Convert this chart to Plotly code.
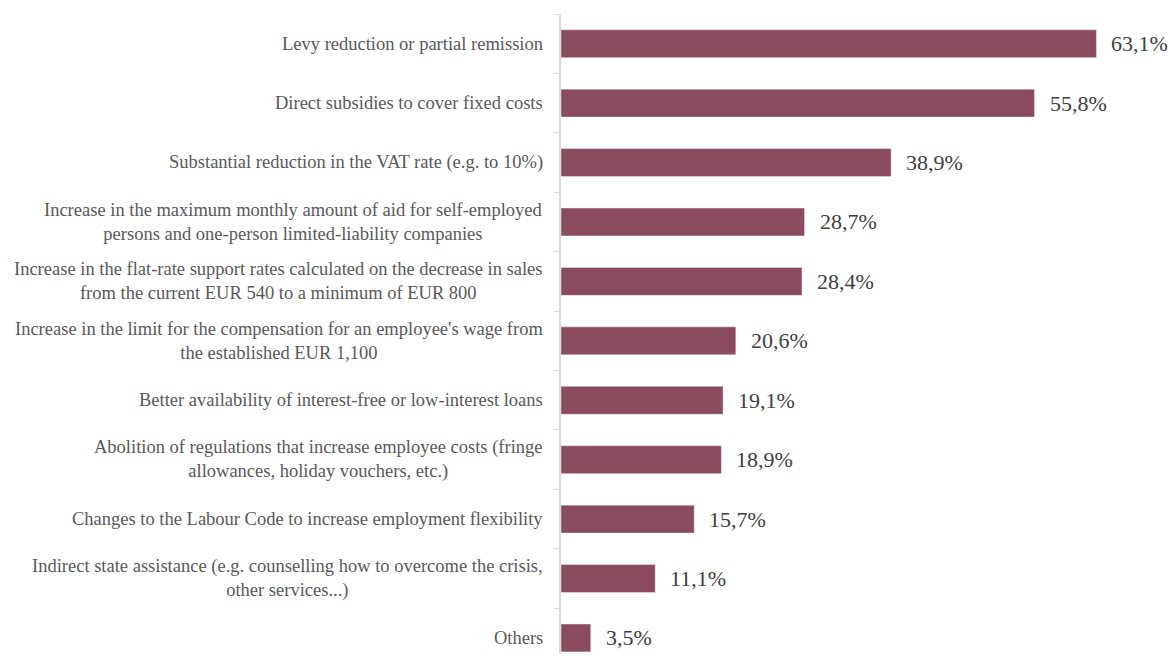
import plotly.graph_objects as go

# categories from top to bottom
categories = [
    "Levy reduction or partial remission",
    "Direct subsidies to cover fixed costs",
    "Substantial reduction in the VAT rate (e.g. to 10%)",
    "Increase in the maximum monthly amount of aid for self-employed<br>persons and one-person limited-liability companies",
    "Increase in the flat-rate support rates calculated on the decrease in sales<br>from the current EUR 540 to a minimum of EUR 800",
    "Increase in the limit for the compensation for an employee's wage from<br>the established EUR 1,100",
    "Better availability of interest-free or low-interest loans",
    "Abolition of regulations that increase employee costs (fringe<br>allowances, holiday vouchers, etc.)",
    "Changes to the Labour Code to increase employment flexibility",
    "Indirect state assistance (e.g. counselling how to overcome the crisis,<br>other services...)",
    "Others",
]
values = [63.1, 55.8, 38.9, 28.7, 28.4, 20.6, 19.1, 18.9, 15.7, 11.1, 3.5]

bar_color = "#8b4b5f"
serif = "Times New Roman, Liberation Serif, serif"

fig = go.Figure()
fig.add_trace(go.Bar(
    x=values, y=categories,
    orientation="h",
    marker=dict(color=bar_color),
    hoverinfo="skip",
))

annotations = []
# category labels: right aligned block, centred lines
for cat in categories:
    annotations.append(dict(
        x=0, y=cat, xref="paper", yref="y",
        text=cat, showarrow=False,
        xanchor="right", yanchor="middle", align="center",
        xshift=-16,
        font=dict(family=serif, size=18.5, color="#595959"),
    ))
# value labels
for cat, v in zip(categories, values):
    annotations.append(dict(
        x=v, y=cat, xref="x", yref="y",
        text=f"{v:.1f}%".replace(".", ","), showarrow=False,
        xanchor="left", yanchor="middle", xshift=13,
        font=dict(family=serif, size=22, color="#404040"),
    ))

# page body has an 8px margin, so the figure is shifted by 8px
fig.update_layout(
    width=1160, height=646,
    margin=dict(l=553, r=13, t=6, b=0),
    plot_bgcolor="white", paper_bgcolor="white",
    showlegend=False,
    bargap=0.53,
    annotations=annotations,
    xaxis=dict(range=[0, 70], visible=False),
    yaxis=dict(
        type="category",
        categoryorder="array", categoryarray=categories,
        range=[10.27, -0.5],
        showticklabels=False,
        tickson="boundaries",
        ticks="outside", ticklen=5, tickcolor="#d9d9d9",
        showline=True, linecolor="#d9d9d9", linewidth=1.5,
        showgrid=False, zeroline=False,
    ),
)

fig.write_html("out.html")
